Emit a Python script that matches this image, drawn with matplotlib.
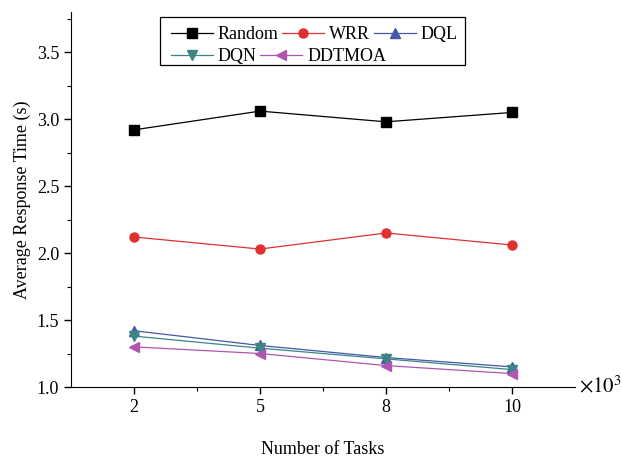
import matplotlib
matplotlib.use("Agg")
import matplotlib.pyplot as plt
from matplotlib.patches import Rectangle
from matplotlib.ticker import MultipleLocator, FormatStrFormatter
import numpy as np

tasks = ["2", "5", "8", "10"]
random_rt = [2.92, 3.06, 2.98, 3.05]
wrr_rt = [2.12, 2.03, 2.15, 2.06]
dql_rt = [1.42, 1.31, 1.22, 1.15]
dqn_rt = [1.38, 1.29, 1.21, 1.13]
ddtmoa_rt = [1.30, 1.25, 1.16, 1.10]

plt.rcParams["font.family"] = ["Liberation Serif", "DejaVu Serif"]
plt.rcParams["mathtext.fontset"] = "stix"

W, H = 622, 459
fig = plt.figure(figsize=(W / 100, H / 100), dpi=100)
ax = fig.add_axes([71 / W, 1 - 387 / H, (575 - 71) / W, (387 - 12) / H])

x = np.arange(len(tasks))
series = [
    ("Random", random_rt, "#000000", "s"),
    ("WRR", wrr_rt, "#e03131", "o"),
    ("DQL", dql_rt, "#4557a8", "^"),
    ("DQN", dqn_rt, "#3d8585", "v"),
    ("DDTMOA", ddtmoa_rt, "#b055b0", "<"),
]
lines = {}
for name, vals, color, mk in series:
    lines[name], = ax.plot(x, vals, color=color, lw=0.9, marker=mk, ms=6.5, label=name)

ax.set_xlim(-0.5, 3.5)
ax.set_ylim(1.0, 3.8)
ax.set_xticks(x)
ax.set_xticklabels(tasks)
ax.set_xticks(x[:-1] + 0.5, minor=True)
ax.yaxis.set_major_locator(MultipleLocator(0.5))
ax.yaxis.set_minor_locator(MultipleLocator(0.25))
ax.yaxis.set_major_formatter(FormatStrFormatter("%.1f"))
for s in ("top", "right"):
    ax.spines[s].set_visible(False)
ax.tick_params(labelsize=13, width=1, length=5)
ax.tick_params(which="minor", length=3, width=0.8)

ax.set_ylabel("Average Response Time (s)", fontsize=13)
ax.set_xlabel("Number of Tasks", fontsize=13, labelpad=18)
ax.text(1.008, 0.0, r"$\times10^3$", transform=ax.transAxes, fontsize=15,
        va="center", ha="left")

# Origin-style flowing legend: two rows inside one frame
leg_kw = dict(loc="upper left", bbox_transform=fig.transFigure, fontsize=13,
              frameon=False, handlelength=2.3, handletextpad=0.3,
              columnspacing=0.2, borderpad=0.0, borderaxespad=0.0)
row1 = ["Random", "WRR", "DQL"]
row2 = ["DQN", "DDTMOA"]
leg1 = ax.legend([lines[n] for n in row1], row1, ncol=3,
                 bbox_to_anchor=(171 / W, 1 - 26 / H), **leg_kw)
ax.add_artist(leg1)
ax.legend([lines[n] for n in row2], row2, ncol=2,
          bbox_to_anchor=(171 / W, 1 - 48 / H), **leg_kw)
fig.add_artist(Rectangle((160 / W, 1 - 65 / H), 305 / W, 48 / H,
                         transform=fig.transFigure, fill=False, lw=0.9, ec="black"))

fig.savefig("out.png", dpi=100)
